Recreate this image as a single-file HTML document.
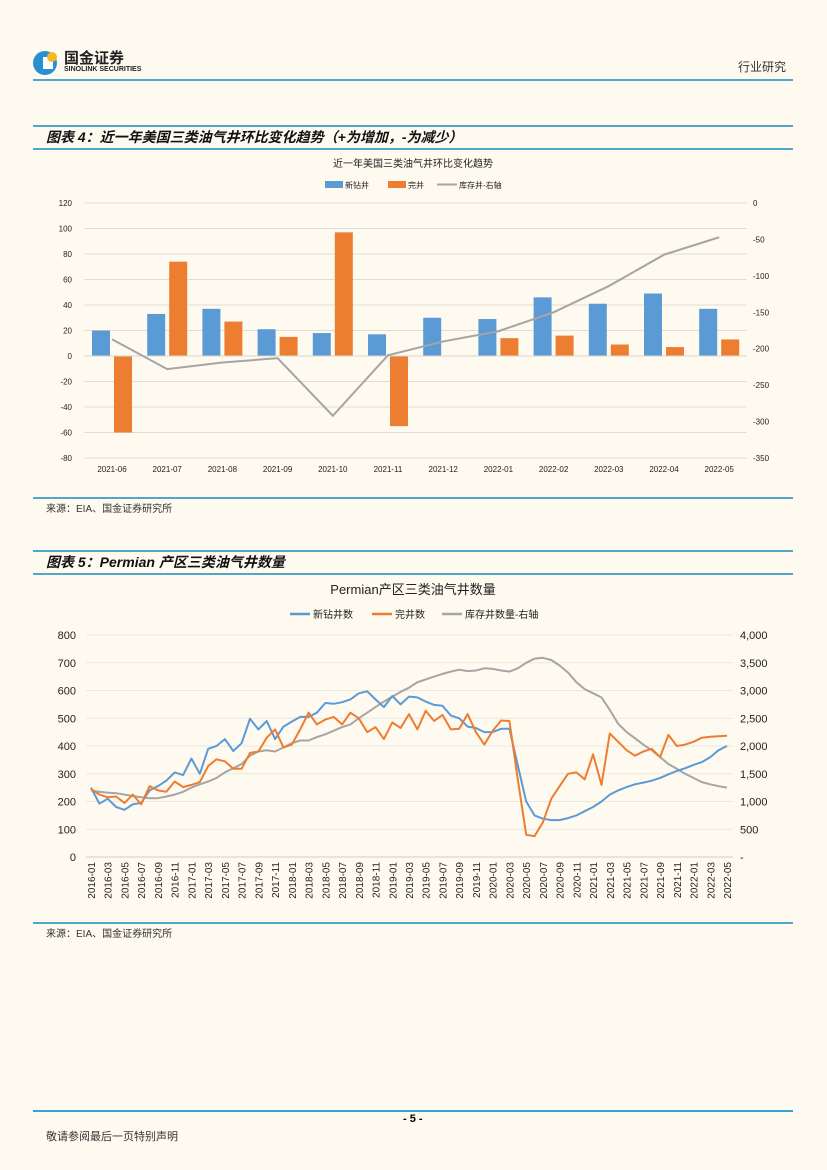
<!DOCTYPE html>
<html><head><meta charset="utf-8">
<style>
body{margin:0;background:#fffaf0;}
#page{position:relative;width:827px;height:1170px;background:#fffaf0;font-family:"Liberation Sans","Noto Sans CJK SC",sans-serif;overflow:hidden;}
.abs{position:absolute;}
.hl{position:absolute;left:33px;width:760px;height:2px;background:#4fa8c8;}
.title{position:absolute;left:46px;font-size:14px;font-weight:bold;font-style:italic;color:#111;}
.src{position:absolute;left:46px;font-size:10px;color:#333;}
svg text{font-family:"Liberation Sans","Noto Sans CJK SC",sans-serif;}
</style></head><body>
<div id="page">
  <div class="abs" style="left:32px;top:47px;width:120px;height:30px;">
    <svg width="30" height="30"><circle cx="13" cy="16" r="12" fill="#2a8fd0"/><rect x="11" y="10" width="10" height="12" fill="#fff"/><circle cx="20" cy="10" r="5" fill="#f3b82a"/></svg>
    <div class="abs" style="left:32px;top:0;font-size:15px;font-weight:bold;color:#222;">国金证券</div>
    <div class="abs" style="left:32px;top:19px;font-size:7px;font-weight:bold;color:#222;white-space:nowrap;">SINOLINK SECURITIES</div>
  </div>
  <div class="abs" style="left:738px;top:58px;font-size:12px;color:#333;">行业研究</div>
  <div class="hl" style="top:79px;"></div>

  <div class="hl" style="top:125px;"></div>
  <div class="title" style="top:127px;">图表 4：近一年美国三类油气井环比变化趋势（+为增加，-为减少）</div>
  <div class="hl" style="top:148px;height:1.5px;"></div>
  <svg class="abs" style="left:0;top:0" width="827" height="1170" id="c1"></svg>
  <div class="hl" style="top:497px;height:1.5px;"></div>
  <div class="src" style="top:500px;">来源：EIA、国金证券研究所</div>

  <div class="hl" style="top:550px;"></div>
  <div class="title" style="top:552px;">图表 5：Permian 产区三类油气井数量</div>
  <div class="hl" style="top:573px;height:1.5px;"></div>
  <div class="hl" style="top:922px;height:1.5px;"></div>
  <div class="src" style="top:925px;">来源：EIA、国金证券研究所</div>

  <div class="hl" style="top:1110px;background:#3aa0d8;"></div>
  <div class="abs" style="left:403px;top:1113px;font-size:11px;font-weight:bold;">- 5 -</div>
  <div class="abs" style="left:46px;top:1128px;font-size:11px;color:#333;">敬请参阅最后一页特别声明</div>
</div>
<script>
const cats1=["2021-06","2021-07","2021-08","2021-09","2021-10","2021-11","2021-12","2022-01","2022-02","2022-03","2022-04","2022-05"];
const drilled1=[20,33,37,21,18,17,30,29,46,41,49,37];
const completed1=[-60,74,27,15,97,-55,0,14,16,9,7,13];
const duc1=[-187,-228,-219,-213,-292,-209,-190,-176,-150,-114,-71,-47];
const leftTicks1=[120,100,80,60,40,20,0,-20,-40,-60,-80];
const rightTicks1=[0,-50,-100,-150,-200,-250,-300,-350];

const months2=[];for(let y=2016;y<=2022;y++)for(let m=1;m<=12;m++){if(y===2022&&m>5)break;months2.push(y+"-"+String(m).padStart(2,"0"));}
const drilled2=[250,192,210,180,170,190,195,240,255,275,305,295,355,300,390,400,425,382,410,498,460,490,425,470,488,505,505,520,555,552,558,568,590,597,568,540,580,550,578,575,560,548,545,510,500,470,465,450,450,462,462,330,200,150,138,133,133,140,150,165,180,200,225,240,252,262,268,275,285,298,310,320,332,342,360,385,400];
const completed2=[245,225,215,218,195,225,190,255,240,235,272,252,260,270,328,352,345,318,318,375,380,430,460,395,405,460,520,478,495,505,478,520,500,450,468,425,485,465,515,460,527,490,512,460,462,515,450,405,455,492,490,280,80,75,125,210,255,300,305,280,370,260,445,415,385,365,380,390,360,440,400,405,415,430,433,435,437];
const duc2=[1200,1175,1160,1150,1125,1100,1075,1060,1060,1090,1125,1175,1250,1310,1360,1425,1525,1600,1675,1825,1900,1925,1900,1975,2050,2100,2100,2160,2210,2275,2340,2390,2500,2600,2700,2800,2890,2975,3050,3150,3200,3250,3300,3340,3375,3350,3360,3400,3390,3360,3340,3400,3500,3575,3590,3550,3450,3325,3150,3025,2950,2875,2650,2400,2250,2140,2025,1925,1800,1675,1590,1500,1425,1350,1310,1275,1250];
const leftTicks2=[0,100,200,300,400,500,600,700,800];
const rightTicks2=[0,500,1000,1500,2000,2500,3000,3500,4000];
const rightLabels2=["-","500","1,000","1,500","2,000","2,500","3,000","3,500","4,000"];

const NS="http://www.w3.org/2000/svg";
function mk(svg,tag,attrs,name,text){const e=document.createElementNS(NS,tag);for(const k in attrs)e.setAttribute(k,attrs[k]);


if(text!==undefined)e.textContent=text;svg.appendChild(e);return e;}

// Chart 1
(function(){
const s=document.getElementById('c1');
const x0=84.4,x1=746.8,step=(x1-x0)/cats1.length;
const yL=v=>356-v*1.275;
const yR=v=>203+(-v)*(255/350);
const cx=i=>x0+step*(i+0.5);
mk(s,'text',{x:413,y:167,'text-anchor':'middle','font-size':10,fill:'#222'},'chart1-title','近一年美国三类油气井环比变化趋势');
mk(s,'rect',{x:325,y:181,width:18,height:7,fill:'#5b9bd5'},'legend-drilled-swatch');
mk(s,'text',{x:345,y:188,'font-size':8,fill:'#222'},'legend-drilled','新钻井');
mk(s,'rect',{x:388,y:181,width:18,height:7,fill:'#ed7d31'},'legend-completed-swatch');
mk(s,'text',{x:408,y:188,'font-size':8,fill:'#222'},'legend-completed','完井');
mk(s,'line',{x1:437,y1:184.5,x2:457,y2:184.5,stroke:'#a5a5a5','stroke-width':2},'legend-duc-swatch');
mk(s,'text',{x:459,y:188,'font-size':8,fill:'#222'},'legend-duc','库存井-右轴');
leftTicks1.forEach(t=>{const y=yL(t);
 mk(s,'line',{x1:x0,y1:y,x2:x1,y2:y,stroke:'#e0ddd4','stroke-width':1},'gridline');
 mk(s,'text',{x:72,y:y+3,'text-anchor':'end','font-size':8,fill:'#222'},'y-left-tick',String(t));});
rightTicks1.forEach(t=>mk(s,'text',{x:753,y:yR(t)+3,'font-size':8,fill:'#222'},'y-right-tick',String(t)));
cats1.forEach((c,i)=>mk(s,'text',{x:cx(i),y:472,'text-anchor':'middle','font-size':8,fill:'#222'},'x-tick',c));
drilled1.forEach((v,i)=>{const a=yL(v),b=yL(0);mk(s,'rect',{x:cx(i)-20,y:Math.min(a,b),width:18,height:Math.abs(a-b),fill:'#5b9bd5'},'bar-drilled-'+cats1[i]);});
completed1.forEach((v,i)=>{const a=yL(v),b=yL(0);mk(s,'rect',{x:cx(i)+2,y:Math.min(a,b),width:18,height:Math.abs(a-b),fill:'#ed7d31'},'bar-completed-'+cats1[i]);});
mk(s,'line',{x1:x0,y1:yL(0),x2:x1,y2:yL(0),stroke:'#d9d6cc','stroke-width':1},'zero-axis');
mk(s,'polyline',{points:duc1.map((v,i)=>cx(i)+','+yR(v)).join(' '),fill:'none',stroke:'#a5a5a5','stroke-width':2},'line-duc');
})();

// Chart 2
(function(){
const s=document.getElementById('c1');
const px0=86,px1=733,xa=91,xb=727;
const n=months2.length,st=(xb-xa)/(n-1);
const X=i=>xa+i*st;
const yL=v=>857-v*(222/800);
const yR=v=>857-v*(222/4000);
mk(s,'text',{x:413,y:594,'text-anchor':'middle','font-size':13,fill:'#222'},'chart2-title','Permian产区三类油气井数量');
mk(s,'line',{x1:290,y1:614,x2:310,y2:614,stroke:'#5b9bd5','stroke-width':2.5},'legend-drilled-swatch');
mk(s,'text',{x:313,y:618,'font-size':10,fill:'#222'},'legend-drilled','新钻井数');
mk(s,'line',{x1:372,y1:614,x2:392,y2:614,stroke:'#ed7d31','stroke-width':2.5},'legend-completed-swatch');
mk(s,'text',{x:395,y:618,'font-size':10,fill:'#222'},'legend-completed','完井数');
mk(s,'line',{x1:442,y1:614,x2:462,y2:614,stroke:'#a5a5a5','stroke-width':2.5},'legend-duc-swatch');
mk(s,'text',{x:465,y:618,'font-size':10,fill:'#222'},'legend-duc','库存井数量-右轴');
leftTicks2.forEach(t=>{const y=yL(t);
 mk(s,'line',{x1:px0,y1:y,x2:px1,y2:y,stroke:t===0?'#d0cdc3':'#ebe8df','stroke-width':1},'gridline');
 mk(s,'text',{x:76,y:y+4,'text-anchor':'end','font-size':11,fill:'#222'},'y-left-tick',String(t));});
rightTicks2.forEach((t,i)=>mk(s,'text',{x:740,y:yR(t)+4,'font-size':11,fill:'#222'},'y-right-tick',rightLabels2[i]));
months2.forEach((m,i)=>{if(i%2)return;const x=X(i);
 mk(s,'text',{x:0,y:0,transform:`translate(${x+4},${862}) rotate(-90)`,'text-anchor':'end','font-size':10,fill:'#222'},'x-tick',m);});
const line=(arr,f,col,name)=>mk(s,'polyline',{points:arr.map((v,i)=>X(i).toFixed(1)+','+f(v).toFixed(1)).join(' '),fill:'none',stroke:col,'stroke-width':2,'stroke-linejoin':'round'},name);
line(duc2,yR,'#a5a5a5','line-duc');
line(drilled2,yL,'#5b9bd5','line-drilled');
line(completed2,yL,'#ed7d31','line-completed');
})();
</script>
</body></html>
